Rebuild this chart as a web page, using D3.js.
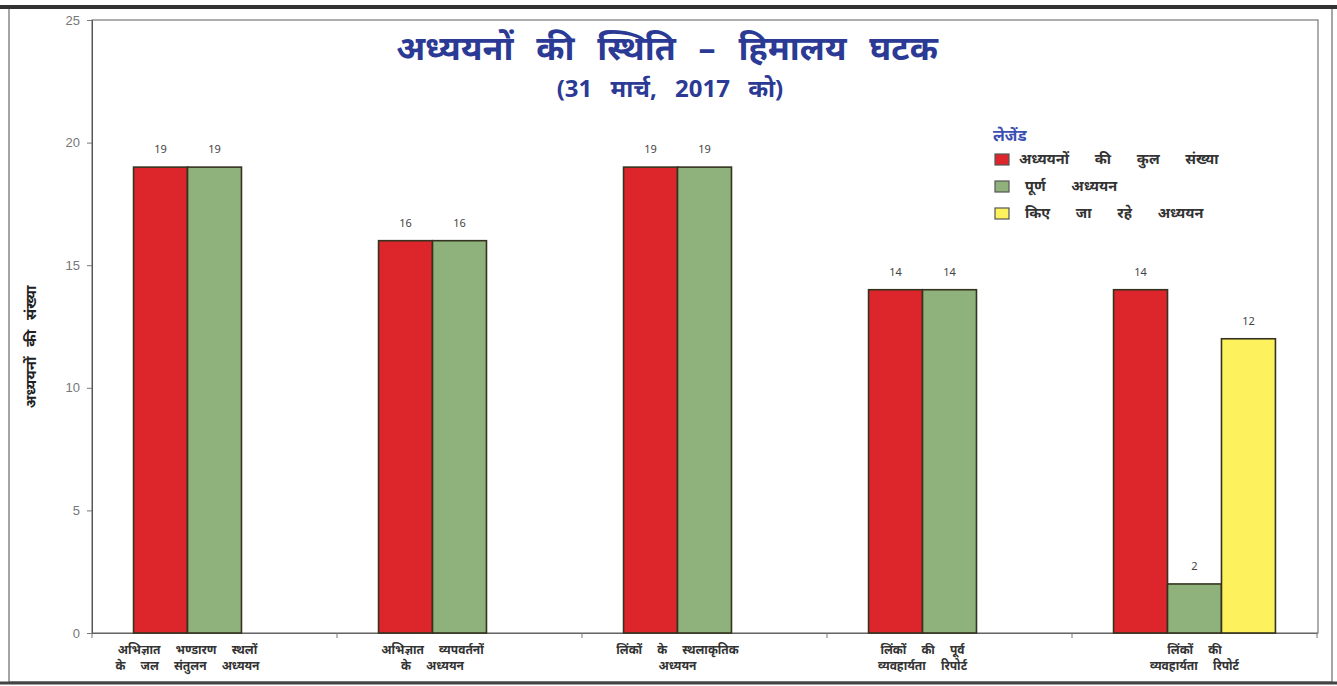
<!DOCTYPE html>
<html><head><meta charset="utf-8">
<script src="https://cdn.jsdelivr.net/npm/d3@7"></script>
<style>
body{margin:0;background:#fff;}
svg{display:block;font-family:"Noto Sans","DejaVu Sans",sans-serif;}
</style></head>
<body><svg id="c" width="1337" height="686"></svg>
<script>
const categories = [
  ["अभिज्ञात भण्डारण स्थलों", "के जल संतुलन अध्ययन"],
  ["अभिज्ञात व्यपवर्तनों", "के अध्ययन"],
  ["लिंकों के स्थलाकृतिक", "अध्ययन"],
  ["लिंकों की पूर्व", "व्यवहार्यता रिपोर्ट"],
  ["लिंकों की", "व्यवहार्यता रिपोर्ट"]
];
const seriesNames = ["अध्ययनों की कुल संख्या", "पूर्ण अध्ययन", "किए जा रहे अध्ययन"];
const totalStudies = [19, 16, 19, 14, 14];
const completedStudies = [19, 16, 19, 14, 2];
const ongoingStudies = [0, 0, 0, 0, 12];
const yTicks = [0, 5, 10, 15, 20, 25];
const titleText = "अध्ययनों की स्थिति – हिमालय घटक";
const subtitleText = "(31 मार्च, 2017 को)";
const legendTitle = "लेजेंड";
const yLabel = "अध्ययनों की संख्या";

const colors = ["#dc262b", "#8fb27c", "#fdf25e"];
const seriesValues = [totalStudies, completedStudies, ongoingStudies];

const svg = d3.select("#c");
const L = 92, R = 1318, T = 20, B = 633;

// outer frame
svg.append("rect").attr("x", 9).attr("y", 8).attr("width", 1323).attr("height", 674)
  .attr("fill", "none").attr("stroke", "#888").attr("stroke-width", 1.5);
svg.append("line").attr("x1", 0).attr("x2", 1337).attr("y1", 7).attr("y2", 7)
  .attr("stroke", "#333").attr("stroke-width", 4);
svg.append("line").attr("x1", 0).attr("x2", 1337).attr("y1", 683).attr("y2", 683)
  .attr("stroke", "#444").attr("stroke-width", 3);

const keys = categories.map((d, i) => i);
const x0 = d3.scaleBand().domain(keys).range([L, L + 5 * 245]).paddingInner(0).paddingOuter(0);
const x1 = d3.scaleBand().domain([0, 1, 2]).range([0, x0.bandwidth()]).paddingInner(0).paddingOuter(0.77);
const y = d3.scaleLinear().domain([0, 25]).range([B, T]);

// plot box
svg.append("rect").attr("x", L).attr("y", T).attr("width", R - L).attr("height", B - T)
  .attr("fill", "none").attr("stroke", "#777").attr("stroke-width", 1.2);

// y axis
const yAxis = svg.append("g").attr("transform", `translate(${L},0)`)
  .call(d3.axisLeft(y).tickValues(yTicks).tickSize(5).tickFormat(d3.format("d")));
yAxis.select(".domain").attr("stroke", "#555");
yAxis.selectAll(".tick line").attr("stroke", "#777");
yAxis.selectAll("text").attr("fill", "#777").attr("font-size", 13).attr("dx", "-4");

// x axis ticks
const xAxis = svg.append("g").attr("transform", `translate(0,${B})`)
  .call(d3.axisBottom(x0).tickSize(0).tickFormat(""));
xAxis.select(".domain").attr("stroke", "#666");
const boundaries = keys.map(k => x0(k)).concat([x0(4) + x0.bandwidth()]);
xAxis.selectAll(".bnd").data(boundaries).join("line").attr("class", "bnd")
  .attr("x1", d => d).attr("x2", d => d).attr("y1", 0).attr("y2", 5).attr("stroke", "#777");

// bars
const barData = [];
keys.forEach(ci => {
  seriesValues.forEach((vals, si) => {
    if (vals[ci] > 0) barData.push({ci, si, v: vals[ci]});
  });
});
svg.append("g").selectAll("rect").data(barData).join("rect")
  .attr("x", d => x0(d.ci) + x1(d.si))
  .attr("y", d => y(d.v))
  .attr("width", x1.bandwidth())
  .attr("height", d => y(0) - y(d.v))
  .attr("fill", d => colors[d.si])
  .attr("stroke", "#35321f").attr("stroke-width", 1.6);

svg.append("g").selectAll("text").data(barData).join("text")
  .attr("x", d => x0(d.ci) + x1(d.si) + x1.bandwidth() / 2)
  .attr("y", d => y(d.v) - 14)
  .attr("text-anchor", "middle").attr("font-size", 11).attr("fill", "#444")
  .text(d => d.v);

// category labels centred on drawn bars
const catG = svg.append("g");
keys.forEach(ci => {
  const bars = barData.filter(d => d.ci === ci);
  const cx = d3.mean([x0(ci) + x1(bars[0].si), x0(ci) + x1(bars[bars.length - 1].si) + x1.bandwidth()]);
  categories[ci].forEach((line, li) => {
    catG.append("text").attr("x", cx).attr("y", B + 21 + li * 16)
      .attr("text-anchor", "middle").attr("font-size", 12).attr("fill", "#333")
      .attr("word-spacing", 12)
      .attr("font-weight", "bold").text(line);
  });
});

// y label
svg.append("text").attr("transform", "translate(36,347) rotate(-90)")
  .attr("text-anchor", "middle").attr("font-size", 15).attr("fill", "#222")
  .attr("word-spacing", 6)
  .attr("font-weight", "bold").text(yLabel);

// title
svg.append("text").attr("x", 667).attr("y", 60).attr("text-anchor", "middle")
  .attr("font-size", 34).attr("font-weight", "bold").attr("fill", "#2b3a94")
  .attr("word-spacing", 14).text(titleText);
svg.append("text").attr("x", 670).attr("y", 97).attr("text-anchor", "middle")
  .attr("font-size", 24).attr("font-weight", "bold").attr("fill", "#2b3a94")
  .attr("word-spacing", 12).text(subtitleText);

// legend
const lg = svg.append("g").attr("transform", "translate(993,0)");
lg.append("text").attr("x", 0).attr("y", 141).attr("font-size", 16).attr("font-weight", "bold")
  .attr("fill", "#3b4fb0").text(legendTitle);
seriesNames.forEach((n, i) => {
  const yy = 154 + i * 27;
  lg.append("rect").attr("x", 2).attr("y", yy).attr("width", 14).attr("height", 11)
    .attr("fill", colors[i]).attr("stroke", "#555").attr("stroke-width", 1.2);
  lg.append("text").attr("x", i === 0 ? 26 : 32).attr("y", yy + 10).attr("font-size", 14.5)
    .attr("fill", "#333").attr("font-weight", "bold")
    .attr("word-spacing", 22).text(n);
});
</script>
</body></html>
